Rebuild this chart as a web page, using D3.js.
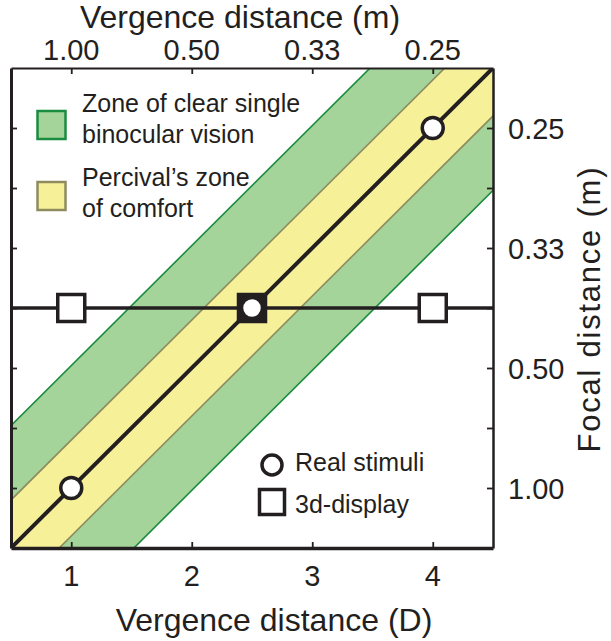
<!DOCTYPE html>
<html><head><meta charset="utf-8">
<script src="https://cdn.jsdelivr.net/npm/d3@7"></script>
<style>
html,body{margin:0;padding:0;background:#fff;}
text{font-family:"Liberation Sans",Arial,Helvetica,sans-serif;fill:#231f20;}
</style></head>
<body>
<svg id="chart" width="611" height="641"></svg>
<script>
// ---- data ----
const xDomain = [0.5, 4.5];               // vergence (D)
const yDomain = [0.5, 4.5];               // focal (D)
const xTickValues = [1, 2, 3, 4];
const bottomTickLabels = ["1", "2", "3", "4"];
const topTickLabels = ["1.00", "0.50", "0.33", "0.25"];
const yMajorTicks = [1, 2, 3, 4];
const yTickLabels = ["1.00", "0.50", "0.33", "0.25"];
const yMinorTicks = [1, 1.5, 2, 2.5, 3, 3.5, 4];
const realStimuli = [[1, 1], [2.5, 2.5], [4, 4]];
const display3d = [[1, 2.5], [2.5, 2.5], [4, 2.5]];
const displayFocal = 2.5;
const zoneClearSingle = [-1.02, 1.02];
const percivalZone = [-0.4, 0.4];
const legendZones = ["Zone of clear single|binocular vision", "Percival\u2019s zone|of comfort"];
const legendMarkers = ["Real stimuli", "3d-display"];

// ---- layout ----
const svg = d3.select("#chart");
const L = 11, R = 493, T = 68, B = 548;
const x = d3.scaleLinear().domain(xDomain).range([L, R]);
const y = d3.scaleLinear().domain(yDomain).range([B, T]);
const ink = "#231f20";
const greenFill = "#a4d49a", greenLine = "#1a8c3f";
const yellowFill = "#f6f198", yellowLine = "#8e8c5e";

svg.append("defs").append("clipPath").attr("id", "plotclip")
  .append("rect").attr("x", L).attr("y", T).attr("width", R - L).attr("height", B - T);
const plot = svg.append("g").attr("clip-path", "url(#plotclip)");

function band(off, fill, stroke) {
  const xs = [xDomain[0] - 3, xDomain[1] + 3];
  const pts = [[xs[0], xs[0] + off[0]], [xs[1], xs[1] + off[0]], [xs[1], xs[1] + off[1]], [xs[0], xs[0] + off[1]]];
  plot.append("path").attr("d", d3.line().x(d => x(d[0])).y(d => y(d[1]))(pts) + "Z")
    .attr("fill", fill).attr("stroke", "none");
  off.forEach(o => {
    plot.append("line")
      .attr("x1", x(xs[0])).attr("y1", y(xs[0] + o))
      .attr("x2", x(xs[1])).attr("y2", y(xs[1] + o))
      .attr("stroke", stroke).attr("stroke-width", 1.6);
  });
}
band(zoneClearSingle, greenFill, greenLine);
band(percivalZone, yellowFill, yellowLine);

// diagonal real-world line
plot.append("line")
  .attr("x1", x(xDomain[0])).attr("y1", y(xDomain[0]))
  .attr("x2", x(xDomain[1])).attr("y2", y(xDomain[1]))
  .attr("stroke", ink).attr("stroke-width", 4);
// display focal line
plot.append("line")
  .attr("x1", L).attr("x2", R).attr("y1", y(displayFocal)).attr("y2", y(displayFocal))
  .attr("stroke", ink).attr("stroke-width", 3.5);

// axes (inward ticks)
const gB = svg.append("g").attr("transform", `translate(0,${B})`)
  .call(d3.axisBottom(x).tickValues(xTickValues).tickSizeInner(-6).tickSizeOuter(0).tickFormat(""));
const gT = svg.append("g").attr("transform", `translate(0,${T})`)
  .call(d3.axisTop(x).tickValues(xTickValues).tickSizeInner(-6).tickSizeOuter(0).tickFormat(""));
const gL = svg.append("g").attr("transform", `translate(${L},0)`)
  .call(d3.axisLeft(y).tickValues(yMinorTicks).tickSizeInner(-6).tickSizeOuter(0).tickFormat(""));
const gR = svg.append("g").attr("transform", `translate(${R},0)`)
  .call(d3.axisRight(y).tickValues(yMinorTicks).tickSizeInner(-6).tickSizeOuter(0).tickFormat(""));
[gB, gT, gL, gR].forEach(g => {
  g.selectAll(".tick line").attr("stroke", ink).attr("stroke-width", 1.8);
  g.select(".domain").attr("stroke", ink);
});
gB.select(".domain").attr("stroke-width", 3.5);
gL.select(".domain").attr("stroke-width", 3);
gT.select(".domain").attr("stroke-width", 2);
gR.select(".domain").attr("stroke-width", 2.5);

// tick labels
svg.append("g").selectAll("text").data(xTickValues).join("text")
  .attr("x", d => x(d)).attr("y", 586).attr("text-anchor", "middle")
  .attr("font-size", 29).text((d, i) => bottomTickLabels[i]);
svg.append("g").selectAll("text").data(xTickValues).join("text")
  .attr("x", d => x(d)).attr("y", 60).attr("text-anchor", "middle")
  .attr("font-size", 29).text((d, i) => topTickLabels[i]);
svg.append("g").selectAll("text").data(yMajorTicks).join("text")
  .attr("x", 508).attr("y", d => y(d) + 10.5).attr("text-anchor", "start")
  .attr("font-size", 29).text((d, i) => yTickLabels[i]);

// axis titles
svg.append("text").attr("x", 274).attr("y", 631).attr("text-anchor", "middle")
  .attr("font-size", 32).text("Vergence distance (D)");
svg.append("text").attr("x", 240).attr("y", 28).attr("text-anchor", "middle")
  .attr("font-size", 32).text("Vergence distance (m)");
svg.append("text").attr("transform", `translate(600,${310}) rotate(-90)`).attr("text-anchor", "middle")
  .attr("font-size", 31).attr("textLength", 285).attr("lengthAdjust", "spacing")
  .text("Focal distance (m)");

// markers
const sq = 27;
svg.append("g").selectAll("rect").data(display3d).join("rect")
  .attr("x", d => x(d[0]) - sq / 2).attr("y", d => y(d[1]) - sq / 2)
  .attr("width", sq).attr("height", sq)
  .attr("fill", d => realStimuli.some(r => r[0] === d[0] && r[1] === d[1]) ? ink : "#fff")
  .attr("stroke", ink).attr("stroke-width", 3.5);
svg.append("g").selectAll("circle").data(realStimuli).join("circle")
  .attr("cx", d => x(d[0])).attr("cy", d => y(d[1])).attr("r", 10.5)
  .attr("fill", "#fff").attr("stroke", ink).attr("stroke-width", 3.5);

// legend: zones
const zoneStyles = [[greenFill, greenLine], [yellowFill, yellowLine]];
const zoneTop = [111, 182];
const zoneBase = [112, 186];
legendZones.forEach((lab, i) => {
  svg.append("rect").attr("x", 37.5).attr("y", zoneTop[i]).attr("width", 28).attr("height", 28)
    .attr("fill", zoneStyles[i][0]).attr("stroke", zoneStyles[i][1]).attr("stroke-width", 2.5);
  const t = svg.append("text").attr("x", 82).attr("y", zoneBase[i]).attr("font-size", 25);
  lab.split("|").forEach((s, j) => t.append("tspan").attr("x", 82).attr("dy", j ? 31 : 0).text(s));
});
// legend: markers
svg.append("circle").attr("cx", 272).attr("cy", 465).attr("r", 10)
  .attr("fill", "#fff").attr("stroke", ink).attr("stroke-width", 3.5);
svg.append("rect").attr("x", 259.5).attr("y", 489.5).attr("width", 25).attr("height", 25)
  .attr("fill", "#fff").attr("stroke", ink).attr("stroke-width", 3.5);
svg.append("text").attr("x", 295).attr("y", 471).attr("font-size", 25).text(legendMarkers[0]);
svg.append("text").attr("x", 295).attr("y", 513).attr("font-size", 25).text(legendMarkers[1]);
</script>
</body></html>
